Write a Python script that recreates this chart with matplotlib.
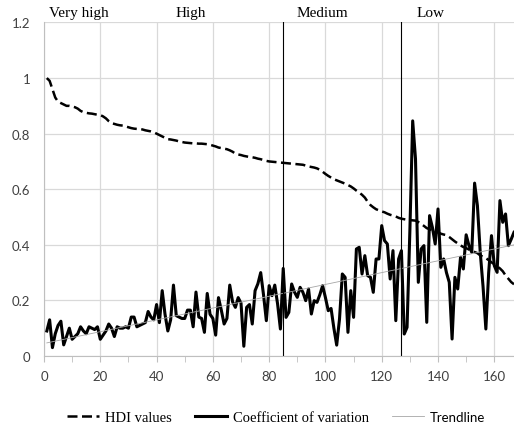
import numpy as np
import matplotlib.pyplot as plt
from matplotlib.ticker import MultipleLocator, FuncFormatter

# HDI values for 167 countries, sorted from high to low
hdi = [1.00, 0.99, 0.96, 0.93, 0.915, 0.91, 0.905, 0.90, 0.90, 0.898,
       0.895, 0.89, 0.882, 0.877, 0.875, 0.873, 0.872, 0.87, 0.868, 0.867,
       0.862, 0.855, 0.845, 0.838, 0.835, 0.832, 0.83, 0.829, 0.826, 0.823,
       0.82, 0.818, 0.817, 0.817, 0.815, 0.812, 0.81, 0.808, 0.805, 0.80,
       0.795, 0.79, 0.785, 0.78, 0.779, 0.777, 0.775, 0.772, 0.77, 0.768,
       0.767, 0.766, 0.765, 0.765, 0.764, 0.764, 0.763, 0.762, 0.76, 0.757,
       0.754, 0.75, 0.748, 0.746, 0.744, 0.74, 0.735, 0.728, 0.725, 0.723,
       0.72, 0.718, 0.716, 0.715, 0.713, 0.71, 0.708, 0.705, 0.702, 0.70,
       0.699, 0.698, 0.697, 0.696, 0.695, 0.694, 0.693, 0.692, 0.691, 0.69,
       0.689, 0.688, 0.685, 0.682, 0.68, 0.678, 0.675, 0.67, 0.663, 0.655,
       0.648, 0.642, 0.636, 0.632, 0.628, 0.624, 0.62, 0.615, 0.61, 0.603,
       0.595, 0.588, 0.58, 0.57, 0.555, 0.543, 0.535, 0.528, 0.524, 0.52,
       0.517, 0.512, 0.508, 0.505, 0.502, 0.497, 0.494, 0.492, 0.49, 0.489,
       0.488, 0.487, 0.482, 0.475, 0.468, 0.46, 0.456, 0.452, 0.448, 0.445,
       0.44, 0.437, 0.435, 0.428, 0.42, 0.412, 0.405, 0.398, 0.392, 0.388,
       0.383, 0.378, 0.374, 0.37, 0.362, 0.357, 0.352, 0.345, 0.337, 0.33,
       0.322, 0.315, 0.305, 0.29, 0.278, 0.266, 0.258]

# coefficient of variation, same country order
cv = [0.09, 0.13, 0.03, 0.08, 0.11, 0.125, 0.04, 0.07, 0.10, 0.06,
      0.07, 0.08, 0.105, 0.09, 0.08, 0.105, 0.10, 0.095, 0.105, 0.06,
      0.075, 0.09, 0.115, 0.10, 0.07, 0.105, 0.10, 0.10, 0.105, 0.10,
      0.14, 0.14, 0.105, 0.11, 0.115, 0.12, 0.16, 0.14, 0.13, 0.185,
      0.12, 0.235, 0.15, 0.09, 0.13, 0.255, 0.145, 0.14, 0.135, 0.135,
      0.165, 0.165, 0.105, 0.23, 0.14, 0.135, 0.085, 0.225, 0.15, 0.135,
      0.075, 0.21, 0.165, 0.115, 0.135, 0.255, 0.195, 0.175, 0.21, 0.19,
      0.035, 0.175, 0.185, 0.115, 0.235, 0.26, 0.30, 0.22, 0.127, 0.253,
      0.217, 0.255, 0.187, 0.097, 0.315, 0.139, 0.157, 0.259, 0.23, 0.211,
      0.247, 0.229, 0.199, 0.241, 0.151, 0.199, 0.193, 0.22, 0.253, 0.21,
      0.163, 0.171, 0.10, 0.039, 0.133, 0.295, 0.283, 0.085, 0.235, 0.139,
      0.385, 0.391, 0.295, 0.361, 0.289, 0.283, 0.229, 0.349, 0.349, 0.469,
      0.415, 0.403, 0.277, 0.379, 0.127, 0.349, 0.379, 0.079, 0.103, 0.45,
      0.846, 0.709, 0.265, 0.385, 0.397, 0.121, 0.505, 0.463, 0.403, 0.529,
      0.319, 0.349, 0.30, 0.265, 0.061, 0.283, 0.241, 0.355, 0.313, 0.436,
      0.397, 0.373, 0.622, 0.541, 0.373, 0.25, 0.097, 0.30, 0.433, 0.325,
      0.301, 0.559, 0.481, 0.511, 0.397, 0.42, 0.445]

groups = ['Very high', 'High', 'Medium', 'Low']
group_label_x = [1.8, 46.6, 89.6, 132.3]   # left edge of each label
group_breaks = [85, 127]

x = np.arange(1, len(hdi) + 1)
trend = np.polyval(np.polyfit(x, cv, 1), x)

fig = plt.figure(figsize=(5.14, 4.27), dpi=100)
ax = fig.add_axes([0.0856, 0.164, 0.9144, 0.781])

grey = '#d9d9d9'
ax.plot(x, hdi, color='black', lw=1.8, linestyle=(0, (4, 1.8)), label='HDI values')
ax.plot(x, cv, color='black', lw=2.2, label='Coefficient of variation')
ax.plot(x, trend, color='#a6a6a6', lw=0.6, label='Trendline')
for b in group_breaks:
    ax.axvline(b, color='black', lw=0.8)

ax.set_xlim(0, 167)
ax.set_ylim(0, 1.2)
ax.xaxis.set_major_locator(MultipleLocator(20))
ax.xaxis.set_minor_locator(MultipleLocator(10))
ax.yaxis.set_major_locator(MultipleLocator(0.2))
ax.yaxis.set_major_formatter(FuncFormatter(lambda v, p: f'{v:.1f}'.rstrip('0').rstrip('.')))
ax.grid(True, color=grey, lw=0.9)
ax.set_axisbelow(True)
for s in ['top', 'right']:
    ax.spines[s].set_visible(False)
ax.spines['left'].set_color('#bfbfbf')
ax.spines['bottom'].set_color('#bfbfbf')
ax.tick_params(axis='x', which='both', direction='out', color='#bfbfbf', length=4,
               labelsize=9.5, labelcolor='#404040', pad=6)
ax.tick_params(axis='y', length=0, labelsize=9.5, labelcolor='#404040', pad=10)
for t in ax.get_xticklabels() + ax.get_yticklabels():
    t.set_family('Lato')

for name, gx in zip(groups, group_label_x):
    ax.text(gx, 1.212, name, ha='left', va='bottom', fontsize=11,
            family='Liberation Serif')

leg = fig.legend(loc='lower center', bbox_to_anchor=(0.537, -0.026), ncol=3, frameon=False,
                 handlelength=2.2, columnspacing=1.6, handletextpad=0.4,
                 prop={'family': 'Liberation Serif', 'size': 10.5})
leg.get_texts()[2].set_family('Lato')
leg.get_texts()[2].set_fontsize(9.5)

fig.savefig('out.png', dpi=100)
